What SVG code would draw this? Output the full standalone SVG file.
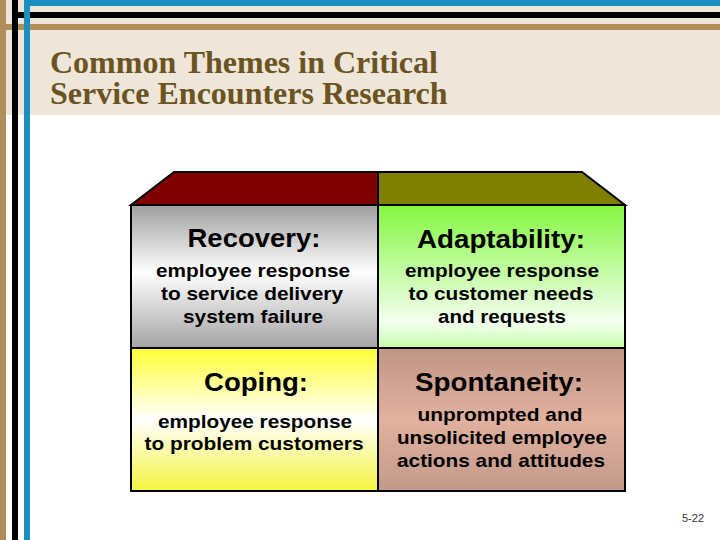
<svg xmlns="http://www.w3.org/2000/svg" width="720" height="540" viewBox="0 0 720 540">
<defs>
<linearGradient id="gGray" x1="0" y1="0" x2="0" y2="1"><stop offset="0" stop-color="#9e9e9e"/><stop offset="0.47" stop-color="#ffffff"/><stop offset="1" stop-color="#a4a4a4"/></linearGradient>
<linearGradient id="gGreen" x1="0" y1="0" x2="0" y2="1"><stop offset="0" stop-color="#84f840"/><stop offset="0.82" stop-color="#f4fff0"/><stop offset="1" stop-color="#c4ffa8"/></linearGradient>
<linearGradient id="gYellow" x1="0" y1="0" x2="0" y2="1"><stop offset="0" stop-color="#ffff33"/><stop offset="0.5" stop-color="#ffffff"/><stop offset="1" stop-color="#f4f440"/></linearGradient>
<linearGradient id="gRose" x1="0" y1="0" x2="0" y2="1"><stop offset="0" stop-color="#bf9585"/><stop offset="0.5" stop-color="#e2b19f"/><stop offset="1" stop-color="#c29a8a"/></linearGradient>
</defs>
<style>
.title{font-family:"Liberation Serif","Times New Roman",serif;font-weight:bold;font-size:32px;fill:#6b5322}
.head{font-family:"Liberation Sans",Arial,sans-serif;font-weight:bold;font-size:25px;fill:#000;text-anchor:middle}
.body{font-family:"Liberation Sans",Arial,sans-serif;font-weight:bold;font-size:19px;fill:#000;text-anchor:middle}
.cell{stroke:#000;stroke-width:2}
.pg{font-family:"Liberation Sans",Arial,sans-serif;font-size:11px;fill:#333}
</style>
<rect x="0" y="0" width="720" height="540" fill="#ffffff"/>
<g id="header">
<rect x="0" y="0" width="720" height="115" fill="#efe6da"/>
<rect x="24" y="0" width="696" height="6" fill="#1a8fc0"/>
<rect x="12" y="12" width="708" height="6" fill="#000000"/>
<rect x="0" y="24" width="720" height="6" fill="#b08e5a"/>
<rect x="0" y="0" width="6" height="540" fill="#b08e5a"/>
<rect x="12" y="0" width="6" height="540" fill="#000000"/>
<rect x="24" y="0" width="6" height="540" fill="#1a8fc0"/>
<text class="title" x="50" y="73">Common Themes in Critical</text>
<text class="title" x="50" y="104">Service Encounters Research</text>
</g>
<g id="roof">
<polygon points="131,205 174,172 378,172 378,205" fill="#800000" class="cell"/>
<polygon points="378,205 378,172 582,172 625,205" fill="#808000" class="cell"/>
</g>
<g id="recovery">
<rect x="131" y="205" width="247" height="143" fill="url(#gGray)" class="cell"/>
<text class="head" x="254" y="247" textLength="133" lengthAdjust="spacingAndGlyphs">Recovery:</text>
<text class="body" x="253" y="277" textLength="194" lengthAdjust="spacingAndGlyphs">employee response</text>
<text class="body" x="252" y="300" textLength="182" lengthAdjust="spacingAndGlyphs">to service delivery</text>
<text class="body" x="253" y="323" textLength="140" lengthAdjust="spacingAndGlyphs">system failure</text>
</g>
<g id="adaptability">
<rect x="378" y="205" width="247" height="143" fill="url(#gGreen)" class="cell"/>
<text class="head" x="501" y="248" textLength="168" lengthAdjust="spacingAndGlyphs">Adaptability:</text>
<text class="body" x="502" y="277" textLength="194" lengthAdjust="spacingAndGlyphs">employee response</text>
<text class="body" x="501" y="300" textLength="185" lengthAdjust="spacingAndGlyphs">to customer needs</text>
<text class="body" x="502" y="323" textLength="128" lengthAdjust="spacingAndGlyphs">and requests</text>
</g>
<g id="coping">
<rect x="131" y="348" width="247" height="143" fill="url(#gYellow)" class="cell"/>
<text class="head" x="256" y="391" textLength="104" lengthAdjust="spacingAndGlyphs">Coping:</text>
<text class="body" x="255" y="428" textLength="194" lengthAdjust="spacingAndGlyphs">employee response</text>
<text class="body" x="254" y="450" textLength="219" lengthAdjust="spacingAndGlyphs">to problem customers</text>
</g>
<g id="spontaneity">
<rect x="378" y="348" width="247" height="143" fill="url(#gRose)" class="cell"/>
<text class="head" x="499" y="391" textLength="168" lengthAdjust="spacingAndGlyphs">Spontaneity:</text>
<text class="body" x="500" y="421" textLength="165" lengthAdjust="spacingAndGlyphs">unprompted and</text>
<text class="body" x="502" y="444" textLength="210" lengthAdjust="spacingAndGlyphs">unsolicited employee</text>
<text class="body" x="501" y="467" textLength="208" lengthAdjust="spacingAndGlyphs">actions and attitudes</text>
</g>
<g id="connectors"></g>
<text class="pg" x="682" y="522">5-22</text>
</svg>
